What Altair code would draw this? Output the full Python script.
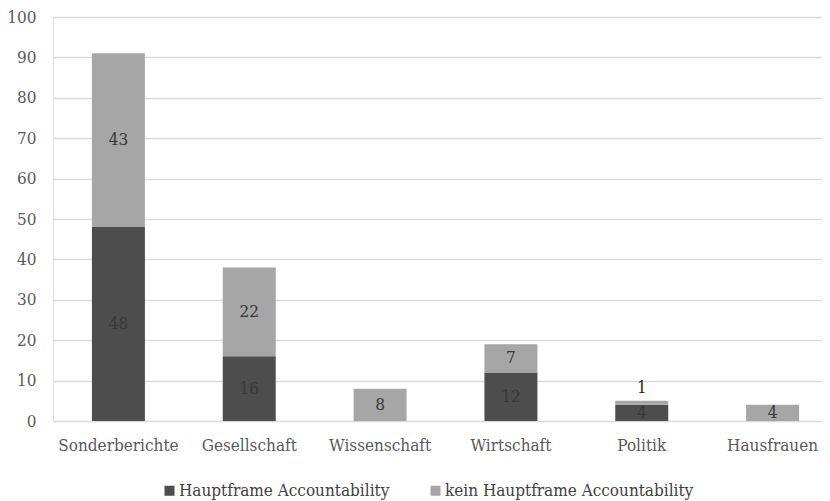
import altair as alt
import pandas as pd

categories = ["Sonderberichte", "Gesellschaft", "Wissenschaft", "Wirtschaft", "Politik", "Hausfrauen"]
series = ["Hauptframe Accountability", "kein Hauptframe Accountability"]
haupt = [48, 16, 0, 12, 4, 0]
kein = [43, 22, 8, 7, 1, 4]
y_ticks = [0, 10, 20, 30, 40, 50, 60, 70, 80, 90, 100]
colors = ["#4d4d4d", "#a6a6a6"]

rows = []
for i, c in enumerate(categories):
    rows.append({"cat": c, "series": series[0], "value": haupt[i], "ord": 0})
    rows.append({"cat": c, "series": series[1], "value": kein[i], "ord": 1})
df = pd.DataFrame(rows)

FONT = "DejaVu Serif Condensed"
FS = 17

x_enc = alt.X(
    "cat:N", sort=categories,
    scale=alt.Scale(range=[0, 785], paddingInner=0.595, paddingOuter=0.2975),
    axis=alt.Axis(title=None, labelAngle=0, ticks=False, domain=False, labelPadding=16,
                  labelFont=FONT, labelFontSize=FS, labelColor="#595959"),
)
y_axis = alt.Axis(values=y_ticks, title=None, grid=True, gridColor="#d9d9d9", gridWidth=1.4,
                  ticks=False, tickSize=0, domain=False, labelPadding=17,
                  labelFont=FONT, labelFontSize=FS, labelColor="#595959")
y_scale = alt.Scale(domain=[0, 100], nice=False)

base = alt.Chart(df).transform_stack(
    stack="value", groupby=["cat"], as_=["y0", "y1"], sort=[alt.SortField("ord")]
).transform_calculate(mid="(datum.y0 + datum.y1) / 2")

bars = base.mark_bar().encode(
    x=x_enc,
    y=alt.Y("y0:Q", scale=y_scale, axis=y_axis),
    y2="y1:Q",
    color=alt.Color(
        "series:N",
        scale=alt.Scale(domain=series, range=colors),
        legend=alt.Legend(title=None, orient="none", legendX=108, legendY=465, direction="horizontal",
                          symbolType="square", symbolSize=100, symbolStrokeWidth=0,
                          labelFont=FONT, labelFontSize=FS, labelColor="#404040", labelLimit=500,
                          columnPadding=37, labelOffset=1),
    ),
)

inside = base.transform_filter("datum.value >= 2").mark_text(
    font=FONT, fontSize=FS, color="#383838"
).encode(x=x_enc, y=alt.Y("mid:Q", scale=y_scale, axis=y_axis), text="value:Q")

above = base.transform_filter("datum.value > 0 && datum.value < 2").mark_text(
    font=FONT, fontSize=FS, color="#262626", dy=-13
).encode(x=x_enc, y=alt.Y("y1:Q", scale=y_scale, axis=y_axis), text="value:Q")

chart = alt.layer(bars, inside, above).properties(
    width=769, height=404, autosize="none",
    padding={"left": 45, "top": 9, "right": 0, "bottom": 80},
).configure_view(stroke=None).configure(background="white")

chart.save("out.html", embed_options={"renderer": "svg", "actions": False})
